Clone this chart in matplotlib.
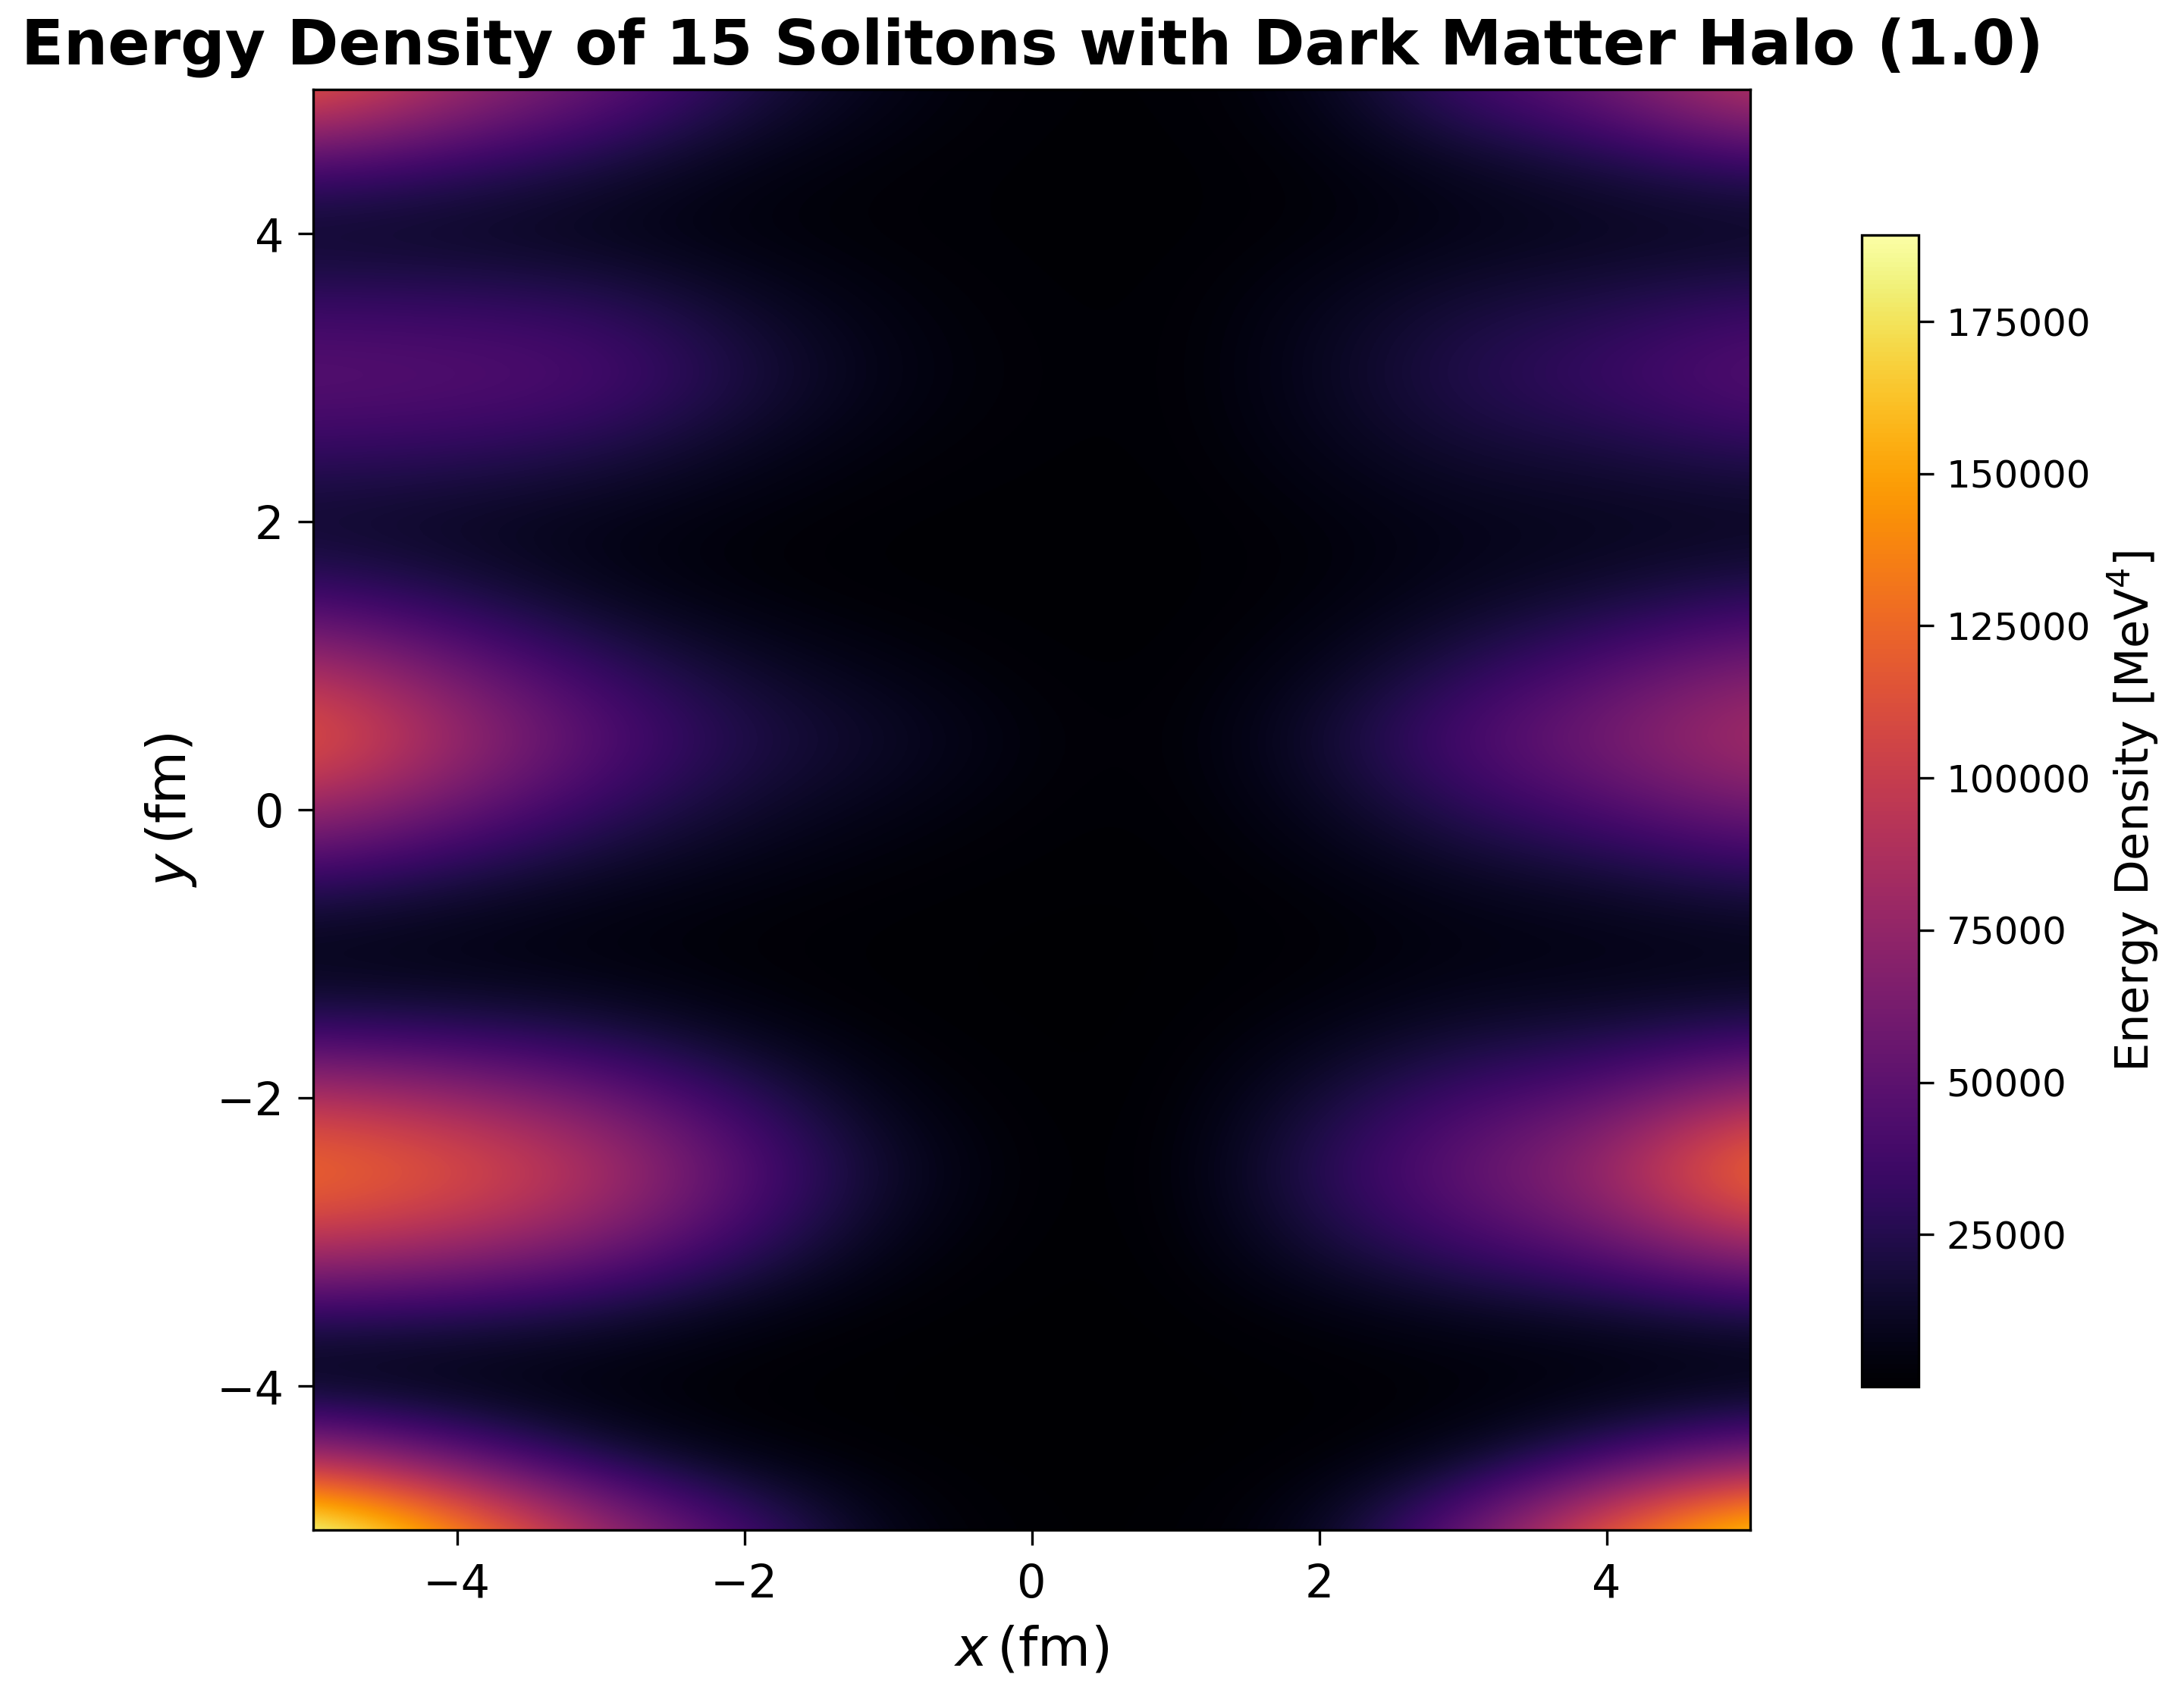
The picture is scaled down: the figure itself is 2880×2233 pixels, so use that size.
import matplotlib
matplotlib.use("Agg")
import matplotlib.pyplot as plt
import numpy as np

x_nodes = [-5, -4, -3, -2, -1, 0, 1, 2, 3, 4, 5]
y_nodes = [5, 4.5, 4, 3.5, 3, 2.5, 2, 1.5, 1, 0.5, 0, -0.5, -1, -1.5, -2, -2.5, -3, -3.5, -4, -4.5, -5]

row_p50 = [125000, 82000, 55000, 24000, 7000, 1500, 1000, 7000, 38000, 58000, 100000]
row_p45 = [42000, 32000, 20000, 7000, 2500, 1000, 800, 3000, 11000, 20000, 32000]
row_p40 = [11000, 10000, 7000, 3500, 2000, 1000, 700, 3000, 7000, 9000, 9000]
row_p35 = [34000, 33000, 29000, 14000, 5000, 1500, 1000, 9000, 19000, 24000, 33000]
row_p30 = [50000, 48000, 44000, 22000, 7000, 2000, 1000, 11000, 26000, 36000, 50000]
row_p25 = [32000, 30000, 23000, 11000, 3500, 1500, 1000, 8000, 17000, 20000, 28000]
row_p20 = [13000, 10000, 7000, 3000, 1000, 800, 700, 3500, 8000, 9000, 9000]
row_p15 = [34000, 22000, 9000, 3000, 1000, 800, 700, 3000, 10000, 16000, 26000]
row_p10 = [86000, 56000, 30000, 14000, 6000, 1500, 800, 8000, 25000, 44000, 64000]
row_p05 = [125000, 82000, 48000, 24000, 14000, 3500, 1000, 16000, 44000, 64000, 90000]
row_z00 = [80000, 55000, 31000, 15000, 7000, 2000, 800, 10000, 28000, 43000, 60000]
row_m05 = [29000, 19000, 10000, 5000, 1800, 800, 600, 3500, 10000, 15000, 24000]
row_m10 = [5000, 4000, 3000, 1500, 800, 500, 500, 1500, 5000, 5000, 5000]
row_m15 = [27000, 24000, 18000, 7000, 1200, 500, 500, 6000, 14000, 17000, 24000]
row_m20 = [92000, 78000, 58000, 30000, 6000, 600, 600, 18000, 38000, 50000, 82000]
row_m25 = [134000, 118000, 92000, 48000, 14000, 800, 800, 28000, 54000, 80000, 142000]
row_m30 = [96000, 84000, 65000, 34000, 7000, 600, 600, 19000, 38000, 54000, 86000]
row_m35 = [27000, 24000, 17000, 6000, 1000, 400, 400, 4000, 9000, 13000, 20000]
row_m40 = [3000, 2500, 2000, 800, 400, 300, 300, 800, 2000, 2500, 2500]
row_m45 = [85000, 50000, 18000, 4000, 800, 300, 300, 1000, 8000, 32000, 62000]
row_m50 = [205000, 150000, 85000, 40000, 6000, 500, 400, 8000, 55000, 125000, 180000]

energy_density = np.array([
    row_p50, row_p45, row_p40, row_p35, row_p30, row_p25, row_p20,
    row_p15, row_p10, row_p05, row_z00, row_m05, row_m10, row_m15,
    row_m20, row_m25, row_m30, row_m35, row_m40, row_m45, row_m50,
], dtype=float)

tick_values = [-4, -2, 0, 2, 4]
cbar_ticks = [25000, 50000, 75000, 100000, 125000, 150000, 175000]
title_text = "Energy Density of 15 Solitons with Dark Matter Halo (1.0)"

W, H = 2880, 2233
fig = plt.figure(figsize=(W / 300, H / 300), dpi=300)
ax = fig.add_axes([413 / W, 1 - 2018 / H, (2308 - 413) / W, (2018 - 118) / H])

dx = (x_nodes[1] - x_nodes[0]) / 2
dy = (y_nodes[0] - y_nodes[1]) / 2
im = ax.imshow(
    energy_density,
    extent=[x_nodes[0] - dx, x_nodes[-1] + dx, y_nodes[-1] - dy, y_nodes[0] + dy],
    origin="upper", cmap="inferno", vmin=0, vmax=189200,
    interpolation="bicubic", aspect="auto",
)
ax.set_xlim(-5, 5)
ax.set_ylim(-5, 5)
ax.set_xticks(tick_values)
ax.set_yticks(tick_values)
ax.tick_params(labelsize=14.5, length=4.8, width=0.8)
ax.tick_params(axis="x", pad=5.5)
ax.tick_params(axis="y", pad=4.5)
ax.set_xlabel(r"$x\,$(fm)", fontsize=17.3, labelpad=5.5)
ax.set_ylabel(r"$y\,$(fm)", fontsize=17.3, labelpad=5.5)

fig.text(1361 / W, 1 - 63 / H, title_text, fontsize=19.66, fontweight="bold",
         ha="center", va="center")

cax = fig.add_axes([2455 / W, 1 - 1829 / H, (2530 - 2455) / W, (1829 - 310) / H])
cb = fig.colorbar(im, cax=cax)
cb.set_ticks(cbar_ticks)
cb.ax.tick_params(labelsize=12, length=4.8, width=0.8, pad=4)
cb.set_label(r"Energy Density [MeV$^4$]", fontsize=14.6, labelpad=5)

fig.savefig("out.png", dpi=300)
